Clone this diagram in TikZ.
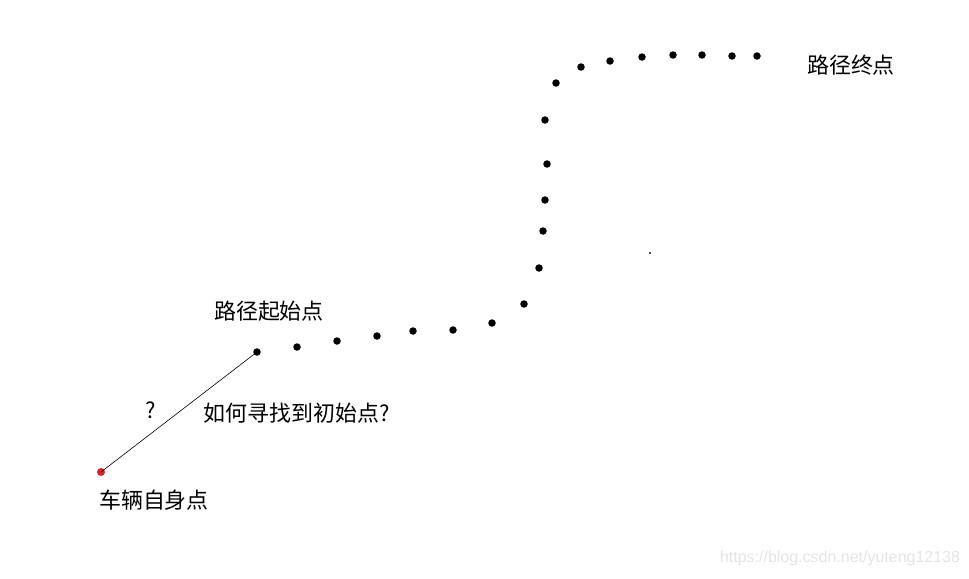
\documentclass[tikz,border=0pt]{standalone}
\usepackage{fontspec}
\usepackage{tikz}
\usetikzlibrary{positioning}
\newfontfamily\cjk{Noto Sans CJK SC}
\setsansfont{Liberation Sans}
\definecolor{CarRed}{HTML}{E0202A}
\definecolor{MarkGray}{HTML}{E4E4E4}

\begin{document}
\begin{tikzpicture}[x=0.02cm, y=-0.02cm, every node/.style={font=\cjk\fontsize{12.5}{15}\selectfont}]
\tikzstyle{pathdot}=[circle, fill=black, inner sep=0pt, minimum size=0.15cm]
\tikzstyle{cardot}=[circle, fill=CarRed, inner sep=0pt, minimum size=0.16cm]
\tikzstyle{label}=[inner sep=0pt]
\useasboundingbox (0,0) rectangle (969,578);
% path points
\node[pathdot] (p1) at (257,352) {};
\node[pathdot] (p2) at (297,347) {};
\node[pathdot] (p3) at (337,341) {};
\node[pathdot] (p4) at (377,336) {};
\node[pathdot] (p5) at (413,331) {};
\node[pathdot] (p6) at (453,330) {};
\node[pathdot] (p7) at (492,323) {};
\node[pathdot] (p8) at (524,304) {};
\node[pathdot] (p9) at (539,268) {};
\node[pathdot] (p10) at (543,231) {};
\node[pathdot] (p11) at (545,200) {};
\node[pathdot] (p12) at (547,164) {};
\node[pathdot] (p13) at (545,120) {};
\node[pathdot] (p14) at (556,83) {};
\node[pathdot] (p15) at (581,67) {};
\node[pathdot] (p16) at (610,61) {};
\node[pathdot] (p17) at (642,57) {};
\node[pathdot] (p18) at (673,55) {};
\node[pathdot] (p19) at (702,55) {};
\node[pathdot] (p20) at (732,56) {};
\node[pathdot] (p21) at (757,56) {};
\node[cardot] (car) at (101,472) {};
\node[fill=black!70, inner sep=0pt, minimum size=1.2pt] (speck) at (650,253) {};
% labels
\node[label] (startlbl) at (269,311) {路径起始点};
\node[label] (endlbl) at (851,65) {路径终点};
\node[label] (qmark) at (151,410) {?};
\node[label] (question) at (297,413) {如何寻找到初始点?};
\node[label] (carlbl) at (154,500) {车辆自身点};
\node[label, font=\sffamily\fontsize{9.1}{11}\selectfont, text=MarkGray] (mark) at (840,558) {https://blog.csdn.net/yuteng12138};
\draw[line width=0.35pt] (car.center)--(p1.center);
\end{tikzpicture}
\end{document}
